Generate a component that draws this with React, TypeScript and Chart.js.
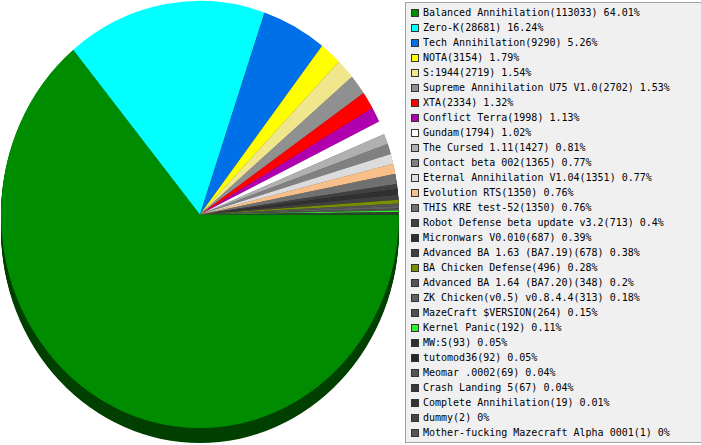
import React, { useEffect, useRef } from "react";
import { Chart, registerables } from "chart.js";

Chart.register(...registerables);

const names = [
  "Balanced Annihilation",
  "Zero-K",
  "Tech Annihilation",
  "NOTA",
  "S:1944",
  "Supreme Annihilation U75 V1.0",
  "XTA",
  "Conflict Terra",
  "Gundam",
  "The Cursed 1.11",
  "Contact beta 002",
  "Eternal Annihilation V1.04",
  "Evolution RTS",
  "THIS KRE test-52",
  "Robot Defense beta update v3.2",
  "Micronwars V0.010",
  "Advanced BA 1.63 (BA7.19)",
  "BA Chicken Defense",
  "Advanced BA 1.64 (BA7.20)",
  "ZK Chicken(v0.5) v0.8.4.4",
  "MazeCraft $VERSION",
  "Kernel Panic",
  "MW:S",
  "tutomod36",
  "Meomar .0002",
  "Crash Landing 5",
  "Complete Annihilation",
  "dummy",
  "Mother-fucking Mazecraft Alpha 0001",
];

const counts = [
  113033, 28681, 9290, 3154, 2719, 2702, 2334, 1998, 1794, 1427, 1365, 1351,
  1350, 1350, 713, 687, 678, 496, 348, 313, 264, 192, 93, 92, 69, 67, 19, 2, 1,
];

const percents = [
  "64.01%", "16.24%", "5.26%", "1.79%", "1.54%", "1.53%", "1.32%", "1.13%",
  "1.02%", "0.81%", "0.77%", "0.77%", "0.76%", "0.76%", "0.4%", "0.39%",
  "0.38%", "0.28%", "0.2%", "0.18%", "0.15%", "0.11%", "0.05%", "0.05%",
  "0.04%", "0.04%", "0.01%", "0%", "0%",
];

const colors = [
  "#008c00", "#00ffff", "#0070e8", "#ffff00", "#f0e68c", "#909090",
  "#ff0000", "#b000b0", "#ffffff", "#b0b0b0", "#808080", "#dcdcdc",
  "#f8c088", "#707070", "#404040", "#303030", "#404040", "#789000",
  "#555555", "#606060", "#505050", "#30f030", "#303030", "#282828",
  "#555555", "#383838", "#333333", "#444444", "#555555",
];

const labels = names.map((n, i) => `${n}(${counts[i]}) ${percents[i]}`);

const Y_SCALE = 213.6 / 199;
const DEPTH = 15;

function darken(hex: string, f: number) {
  const n = parseInt(hex.slice(1), 16);
  const r = Math.round(((n >> 16) & 255) * f);
  const g = Math.round(((n >> 8) & 255) * f);
  const b = Math.round((n & 255) * f);
  return `rgb(${r},${g},${b})`;
}
const darkColors = colors.map((c) => darken(c, 0.46));

const depthPlugin = {
  id: "depth3d",
  beforeDatasetsDraw(chart: any) {
    const ctx = chart.ctx as CanvasRenderingContext2D;
    const arcs = chart.getDatasetMeta(0).data as any[];
    ctx.save();
    if (!arcs.length) return;
    const cx = arcs[0].x;
    const cy = arcs[0].y;
    ctx.translate(cx, cy);
    ctx.scale(1, Y_SCALE);
    ctx.translate(-cx, -cy);
    for (let d = DEPTH; d >= 1; d--) {
      const oy = cy + d / Y_SCALE;
      arcs.forEach((arc, i) => {
        ctx.beginPath();
        ctx.moveTo(cx, oy);
        ctx.arc(cx, oy, arc.outerRadius, arc.startAngle, arc.endAngle);
        ctx.closePath();
        ctx.fillStyle = darkColors[i];
        ctx.fill();
      });
    }
  },
  afterDatasetsDraw(chart: any) {
    chart.ctx.restore();
  },
};

export default function App() {
  const ref = useRef<HTMLCanvasElement>(null);
  useEffect(() => {
    if (!ref.current) return;
    const chart = new Chart(ref.current, {
      type: "pie",
      data: {
        labels,
        datasets: [
          {
            data: counts,
            backgroundColor: colors,
            borderWidth: 0,
          },
        ],
      },
      options: {
        responsive: false,
        animation: false,
        devicePixelRatio: 1,
        rotation: 90,
        radius: 199,
        layout: { padding: { left: 0, top: 0, right: 5, bottom: 16 } },
        plugins: {
          legend: { display: false },
          tooltip: { enabled: false },
        },
      },
      plugins: [depthPlugin],
    });
    return () => chart.destroy();
  }, []);

  return (
    <div
      style={{
        position: "absolute",
        left: 0,
        top: 0,
        width: 701,
        height: 445,
        overflow: "hidden",
        background: "#ffffff",
      }}
    >
      <canvas
        ref={ref}
        width={405}
        height={445}
        style={{ position: "absolute", left: 0, top: 0, display: "block" }}
      />
      <div
        style={{
          position: "absolute",
          left: 405,
          top: 2,
          width: 310,
          height: 441,
          boxSizing: "border-box",
          border: "1px solid #a0a0a0",
          background: "#f0f0f0",
          paddingTop: 2,
          fontFamily: '"DejaVu Sans Mono", "Liberation Mono", monospace',
          fontSize: "10px",
          color: "#000",
        }}
      >
        {labels.map((t, i) => (
          <div
            key={i}
            style={{
              height: 15,
              display: "flex",
              alignItems: "center",
              whiteSpace: "pre",
            }}
          >
            <span
              style={{
                display: "inline-block",
                width: 8,
                height: 8,
                boxSizing: "border-box",
                border: "1px solid #333",
                background: colors[i],
                marginLeft: 5,
                marginRight: 4,
                flexShrink: 0,
              }}
            />
            <span>{t}</span>
          </div>
        ))}
      </div>
    </div>
  );
}
